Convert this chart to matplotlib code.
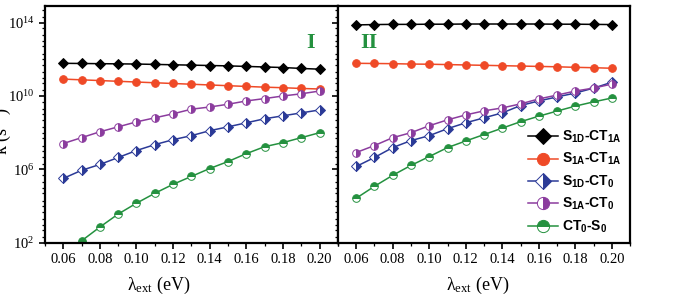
import numpy as np
import matplotlib
matplotlib.use('Agg')
import matplotlib.pyplot as plt
from matplotlib.ticker import LogLocator, MultipleLocator, FixedLocator, FuncFormatter, NullFormatter

plt.rcParams['font.family'] = ['Liberation Serif', 'DejaVu Serif']
plt.rcParams['mathtext.fontset'] = 'custom'
plt.rcParams['mathtext.rm'] = 'Liberation Serif'
plt.rcParams['mathtext.it'] = 'Liberation Serif:italic'
plt.rcParams['mathtext.bf'] = 'Liberation Sans:bold'

# lambda_ext (eV)
lam = [0.06, 0.07, 0.08, 0.09, 0.10, 0.11, 0.12, 0.13, 0.14, 0.15, 0.16, 0.17, 0.18, 0.19, 0.20]

# log10 of rate constants, panel I
I_s1d_ct1a = [11.78, 11.77, 11.76, 11.75, 11.74, 11.72, 11.70, 11.68, 11.66, 11.64, 11.61, 11.58, 11.55, 11.50, 11.46]
I_s1a_ct1a = [10.92, 10.88, 10.84, 10.80, 10.76, 10.72, 10.68, 10.64, 10.60, 10.56, 10.52, 10.48, 10.45, 10.41, 10.38]
I_s1d_ct0 = [5.51, 5.95, 6.27, 6.65, 7.03, 7.35, 7.62, 7.84, 8.11, 8.32, 8.54, 8.76, 8.92, 9.08, 9.24]
I_s1a_ct0 = [7.41, 7.73, 8.05, 8.32, 8.59, 8.81, 9.03, 9.28, 9.40, 9.55, 9.73, 9.86, 10.00, 10.12, 10.27]
I_ct0_s0 = [1.20, 2.11, 2.86, 3.57, 4.16, 4.70, 5.19, 5.62, 6.05, 6.43, 6.86, 7.24, 7.46, 7.73, 8.00]

# panel II
II_s1d_ct1a = [13.87, 13.89, 13.90, 13.90, 13.91, 13.91, 13.92, 13.92, 13.92, 13.92, 13.92, 13.91, 13.91, 13.90, 13.89]
II_s1a_ct1a = [11.78, 11.77, 11.76, 11.74, 11.73, 11.71, 11.69, 11.67, 11.65, 11.63, 11.61, 11.59, 11.56, 11.54, 11.51]
II_s1d_ct0 = [6.16, 6.65, 7.19, 7.57, 7.84, 8.22, 8.54, 8.81, 9.08, 9.48, 9.73, 9.95, 10.16, 10.43, 10.75]
II_s1a_ct0 = [6.92, 7.30, 7.73, 8.00, 8.38, 8.70, 8.97, 9.19, 9.35, 9.57, 9.84, 10.05, 10.27, 10.43, 10.65]
II_ct0_s0 = [4.43, 5.08, 5.68, 6.22, 6.70, 7.19, 7.55, 7.90, 8.25, 8.60, 8.90, 9.18, 9.45, 9.68, 9.89]

labels = ['S$_\\mathbf{1D}$-CT$_\\mathbf{1A}$', 'S$_\\mathbf{1A}$-CT$_\\mathbf{1A}$',
          'S$_\\mathbf{1D}$-CT$_\\mathbf{0}$', 'S$_\\mathbf{1A}$-CT$_\\mathbf{0}$',
          'CT$_\\mathbf{0}$-S$_\\mathbf{0}$']
colors = ['#000000', '#ef4a27', '#2b3a97', '#8b3c9e', '#24913f']
markers = ['D', 'o', 'D', 'o', 'o']
fills = ['full', 'full', 'right', 'right', 'top']

fig = plt.figure(figsize=(6.91, 2.98), dpi=100)
ax1 = fig.add_axes([0.065, 0.185, 0.424, 0.795])
ax2 = fig.add_axes([0.489, 0.185, 0.423, 0.795])

x = np.array(lam)
panels = [(ax1, [I_s1d_ct1a, I_s1a_ct1a, I_s1d_ct0, I_s1a_ct0, I_ct0_s0]),
          (ax2, [II_s1d_ct1a, II_s1a_ct1a, II_s1d_ct0, II_s1a_ct0, II_ct0_s0])]

for ax, series in panels:
    for i, s in enumerate(series):
        ms = 5.5 if markers[i] == 'o' else 5.0
        ax.plot(x, 10**np.array(s), color=colors[i], lw=1.1, marker=markers[i],
                ms=ms, fillstyle=fills[i], markerfacecoloralt='white',
                markeredgecolor=colors[i], markeredgewidth=0.7, label=labels[i])
    ax.set_yscale('log')
    ax.set_ylim(1e2, 8e14)
    ax.set_xlim(0.05, 0.21)
    ax.xaxis.set_major_locator(MultipleLocator(0.02))
    ax.xaxis.set_minor_locator(MultipleLocator(0.01))
    ax.xaxis.set_major_formatter(FuncFormatter(lambda v, p: '%.2f' % v))
    ax.yaxis.set_major_locator(FixedLocator([1e2, 1e6, 1e10, 1e14]))
    ax.yaxis.set_minor_locator(LogLocator(base=10, subs=(1.0, 2.0, 5.0), numticks=40))
    ax.yaxis.set_minor_formatter(NullFormatter())
    ax.tick_params(which='major', direction='out', length=4, width=1.2, labelsize=10.5)
    ax.tick_params(which='minor', direction='out', length=2.5, width=0.9)
    ax.tick_params(axis='y', which='both', right=False)
    ax.tick_params(axis='x', which='both', top=False)
    for sp in ax.spines.values():
        sp.set_linewidth(1.6)
    ax.set_xlabel('λ$_{\\rm ext}$ (eV)', fontsize=13)

ax1.yaxis.set_major_formatter(FuncFormatter(lambda v, p: r'$10^{%d}$' % round(np.log10(v))))
ax2.yaxis.set_major_formatter(FuncFormatter(lambda v, p: ''))
ax1.xaxis.set_label_coords(0.39, -0.135)
ax2.xaxis.set_label_coords(0.48, -0.135)

ax1.text(0.905, 0.845, 'I', transform=ax1.transAxes, color='#24913f',
         fontsize=16, fontweight='bold', ha='center', va='center')
ax2.text(0.105, 0.845, 'II', transform=ax2.transAxes, color='#24913f',
         fontsize=16, fontweight='bold', ha='center', va='center')

fig.text(0.002, 0.56, 'k (s$^{-1}$)', rotation=90, fontsize=13, ha='center', va='center')

ax2.legend(loc='lower right', frameon=False, handlelength=2.2, handletextpad=0.3,
           labelspacing=0.45, borderaxespad=0.2, markerscale=1.6,
           prop={'family': 'Liberation Sans', 'weight': 'bold', 'size': 10})

fig.savefig('out.png', dpi=100)
